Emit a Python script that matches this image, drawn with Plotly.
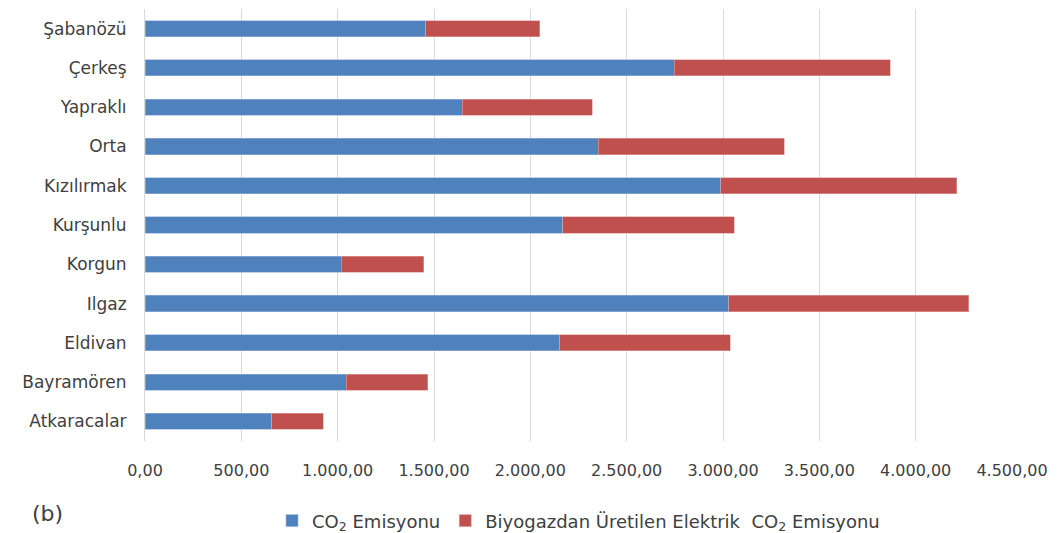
import plotly.graph_objects as go

districts = ["Şabanözü", "Çerkeş", "Yapraklı", "Orta", "Kızılırmak", "Kurşunlu",
             "Korgun", "Ilgaz", "Eldivan", "Bayramören", "Atkaracalar"]
co2_emission = [1456, 2747, 1646, 2353, 2988, 2168, 1018, 3030, 2152, 1044, 658]
biogas_co2 = [593, 1122, 675, 964, 1224, 890, 429, 1245, 885, 424, 267]
tick_vals = [0, 500, 1000, 1500, 2000, 2500, 3000, 3500, 4000, 4500]
tick_text = ["0,00", "500,00", "1.000,00", "1.500,00", "2.000,00", "2.500,00",
             "3.000,00", "3.500,00", "4.000,00", "4.500,00"]

FONT = "DejaVu Sans"
TEXT = "#404040"

fig = go.Figure()
fig.add_trace(go.Bar(
    y=districts, x=co2_emission, orientation="h",
    name="CO<sub>2</sub> Emisyonu",
    marker=dict(color="#4F81BD", line=dict(color="#9DB6DA", width=0.6)),
))
fig.add_trace(go.Bar(
    y=districts, x=biogas_co2, orientation="h",
    name="Biyogazdan Üretilen Elektrik  CO<sub>2</sub> Emisyonu",
    marker=dict(color="#C0504D", line=dict(color="#E0A3A1", width=0.6)),
))

fig.update_layout(
    barmode="stack",
    bargap=0.59,
    width=1062, height=533,
    margin=dict(l=145, r=50, t=9, b=92, autoexpand=False),
    paper_bgcolor="white", plot_bgcolor="white",
    font=dict(family=FONT, color=TEXT),
    xaxis=dict(
        range=[0, 4500], tickvals=tick_vals, ticktext=tick_text,
        showgrid=True, gridcolor="#D9D9D9", gridwidth=1,
        zeroline=False, showline=False, ticks="",
        tickfont=dict(size=16, color=TEXT, family=FONT),
        ticklabelstandoff=18,
    ),
    yaxis=dict(
        autorange="reversed", showgrid=False, zeroline=False,
        showline=True, linecolor="#D9D9D9", linewidth=1, ticks="",
        tickfont=dict(size=17, color=TEXT, family=FONT),
        ticklabelstandoff=14,
    ),
    legend=dict(
        orientation="h", x=0.5, xanchor="center", y=-0.185, yanchor="middle",
        font=dict(size=18, color=TEXT, family=FONT),
        itemwidth=30, traceorder="normal",
    ),
    showlegend=True,
)

fig.add_annotation(
    text="(b)", xref="paper", yref="paper", x=-0.133, y=-0.167,
    xanchor="left", yanchor="middle", showarrow=False,
    font=dict(size=22, color=TEXT, family=FONT),
)

fig.write_html("out.html")
